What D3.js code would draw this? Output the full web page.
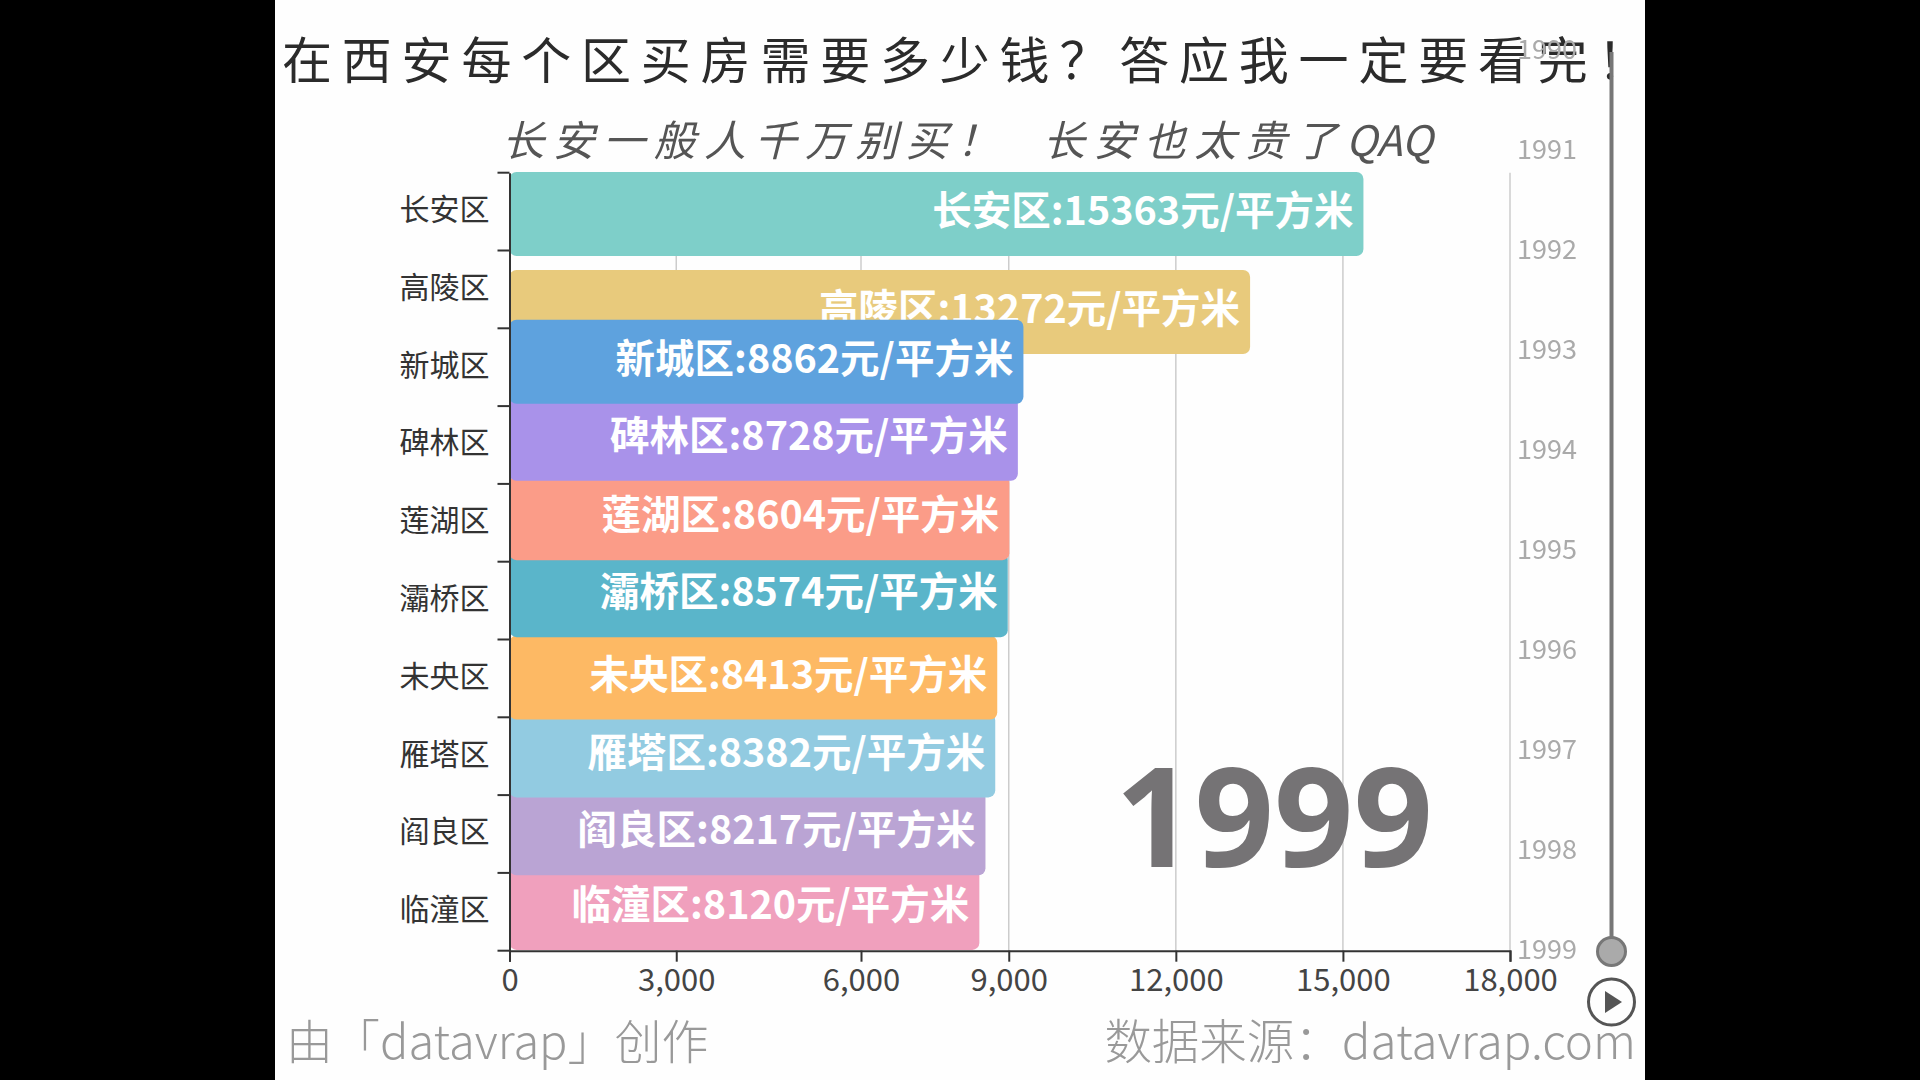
<!DOCTYPE html>
<html>
<head>
    <meta charset="utf-8">
    <script src="https://cdnjs.cloudflare.com/ajax/libs/d3/7.8.5/d3.min.js"></script>
    <style>
        html, body { margin: 0; background: #000; }
        /* the source is a soft video frame */
        svg { display: block; filter: blur(0.7px); }
        text { font-family: "Noto Sans CJK SC", "Noto Sans", sans-serif; white-space: pre; }
    </style>
</head>
<body>
    <div id="chart"></div>
    <script>
        const districts = ["长安区", "高陵区", "新城区", "碑林区", "莲湖区", "灞桥区", "未央区", "雁塔区", "阎良区", "临潼区"];
        const prices = [15363, 13272, 8862, 8728, 8604, 8574, 8413, 8382, 8217, 8120];
        // the video caught the bars mid-animation: their length reads ahead of the printed
        // price on the x axis, and their rank is between two slots
        const frameLengths = [15363, 13324, 9246, 9146, 8993, 8964, 8775, 8739, 8563, 8453];
        const frameRanks = [0.03, 1.29, 1.93, 2.92, 3.94, 4.93, 5.99, 6.99, 7.99, 8.95];
        const barColors = ["#7ecfc9", "#e8ca7c", "#5ea2de", "#a992ea", "#fb9c88", "#5ab5ca", "#fdb964", "#92cbe1", "#baa4d4", "#f0a0bd"];
        const xTicks = [0, 3000, 6000, 9000, 12000, 15000, 18000];
        const years = [1990, 1991, 1992, 1993, 1994, 1995, 1996, 1997, 1998, 1999];
        const currentYear = 1999;

        const svg = d3.select("#chart")
            .append("svg")
            .attr("width", 1920)
            .attr("height", 1080);

        svg.append("rect")
            .attr("x", 275)
            .attr("width", 1370)
            .attr("height", 1080)
            .attr("fill", "#fefefe");

        const x = d3.scaleLinear().domain([0, 18000]).range([509.5, 1510]);
        const y = d3.scaleBand().domain(districts).range([172.7, 950.7]);
        const rankY = d3.scaleLinear()
            .domain([0, 9])
            .range([y(districts[0]) + y.step() / 2, y(districts[9]) + y.step() / 2]);
        const barHeight = 84;

        // the 6,000 tick sits off the even spacing in the source frame
        const xTickScale = d3.scaleLinear()
            .domain([0, 3000, 6000, 9000, 18000])
            .range([x(0), x(3000), x(6000) + 18, x(9000) - 1, x(18000)]);

        // grid
        svg.append("g")
            .selectAll("line")
            .data(xTicks.slice(1))
            .enter()
            .append("line")
            .attr("x1", d => xTickScale(d))
            .attr("x2", d => xTickScale(d))
            .attr("y1", 172.7)
            .attr("y2", 950.7)
            .attr("stroke", "#ccc")
            .attr("stroke-width", 1.5);

        const rows = districts.map((name, i) => ({
            name,
            price: prices[i],
            length: frameLengths[i],
            rank: frameRanks[i],
            color: barColors[i]
        }));

        // top two first, then bottom up: each bar lies over the one below it
        const paintOrder = rows.slice(0, 2).concat(rows.slice(2).reverse());

        const bars = svg.append("g")
            .selectAll("g")
            .data(paintOrder)
            .enter()
            .append("g");

        bars.append("rect")
            .attr("x", x(0))
            .attr("y", d => rankY(d.rank) - barHeight / 2)
            .attr("width", d => x(d.length) - x(0))
            .attr("height", barHeight)
            .attr("rx", 7)
            .attr("fill", d => d.color);

        bars.append("text")
            .attr("x", d => x(d.length) - 10)
            .attr("y", d => rankY(d.rank) - 3)
            .attr("dy", "0.36em")
            .attr("text-anchor", "end")
            .attr("font-size", 39.5)
            .attr("font-weight", 700)
            .attr("fill", "#fff")
            .text(d => d.name + ":" + d.price + "元/平方米");

        // axes
        const xAxis = d3.axisBottom(xTickScale)
            .tickValues(xTicks)
            .tickFormat(d3.format(","))
            .tickSize(11)
            .tickPadding(7);
        const gx = svg.append("g")
            .attr("transform", "translate(0,950.7)")
            .call(xAxis);
        gx.select(".domain").attr("stroke", "#333").attr("stroke-width", 2);
        gx.selectAll(".tick line").attr("stroke", "#333").attr("stroke-width", 2);
        gx.selectAll("text").attr("font-size", 31).attr("fill", "#444");

        const yAxis = d3.axisLeft(y)
            .tickSize(0)
            .tickPadding(20);
        const gy = svg.append("g")
            .attr("transform", "translate(509.5,0)")
            .call(yAxis);
        gy.select(".domain").attr("stroke", "#333").attr("stroke-width", 2);
        gy.selectAll("text").attr("font-size", 30).attr("fill", "#333").attr("dy", "0.28em");

        gy.append("g")
            .selectAll("line")
            .data(d3.range(11))
            .enter()
            .append("line")
            .attr("x1", -12)
            .attr("x2", 0)
            .attr("y1", d => 172.7 + d * y.step())
            .attr("y2", d => 172.7 + d * y.step())
            .attr("stroke", "#333")
            .attr("stroke-width", 2);

        // titles
        svg.append("text")
            .attr("x", 282)
            .attr("y", 61)
            .attr("dy", "0.36em")
            .attr("font-size", 50)
            .attr("letter-spacing", 9.8)
            .attr("fill", "#2b2b2b")
            .text("在西安每个区买房需要多少钱？答应我一定要看完！");

        const subtitle = svg.append("text")
            .attr("x", 502)
            .attr("y", 141)
            .attr("dy", "0.36em")
            .attr("font-size", 42)
            .attr("font-style", "italic")
            .attr("letter-spacing", 8.5)
            .attr("fill", "#555");
        subtitle.append("tspan").text("长安一般人千万别买！  长安也太贵了");
        subtitle.append("tspan").attr("letter-spacing", 0).text("QAQ");

        // big year
        svg.append("text")
            .attr("x", 1274)
            .attr("y", 867)
            .attr("text-anchor", "middle")
            .attr("font-size", 139)
            .attr("font-weight", 700)
            .attr("fill", "#757375")
            .style("font-family", "'Noto Sans', sans-serif")
            .text(currentYear);

        // timeline
        const timeY = d3.scalePoint().domain(years).range([49.5, 949.5]);

        svg.append("line")
            .attr("x1", 1611.5)
            .attr("x2", 1611.5)
            .attr("y1", 52)
            .attr("y2", timeY(currentYear))
            .attr("stroke", "#777")
            .attr("stroke-width", 4);

        svg.append("g")
            .selectAll("text")
            .data(years)
            .enter()
            .append("text")
            .attr("x", 1547)
            .attr("y", d => timeY(d))
            .attr("dy", "0.36em")
            .attr("text-anchor", "middle")
            .attr("font-size", 27)
            .attr("fill", "#aaa")
            .text(d => d);

        svg.append("circle")
            .attr("cx", 1611.5)
            .attr("cy", timeY(currentYear) + 2)
            .attr("r", 14)
            .attr("fill", "#aaa")
            .attr("stroke", "#777")
            .attr("stroke-width", 3);

        svg.append("circle")
            .attr("cx", 1611.5)
            .attr("cy", 1002)
            .attr("r", 23)
            .attr("fill", "none")
            .attr("stroke", "#555")
            .attr("stroke-width", 3);

        svg.append("path")
            .attr("transform", "translate(1612,1002)")
            .attr("d", "M-7,-11L10,0L-7,11Z")
            .attr("fill", "#555");

        // footer
        svg.append("text")
            .attr("x", 286)
            .attr("y", 1042)
            .attr("dy", "0.36em")
            .attr("font-size", 47)
            .attr("font-weight", 300)
            .attr("fill", "#999")
            .text("由「datavrap」创作");

        svg.append("text")
            .attr("x", 1636)
            .attr("y", 1042)
            .attr("dy", "0.36em")
            .attr("text-anchor", "end")
            .attr("font-size", 47.5)
            .attr("font-weight", 300)
            .attr("fill", "#999")
            .text("数据来源：datavrap.com");
    </script>
</body>
</html>
